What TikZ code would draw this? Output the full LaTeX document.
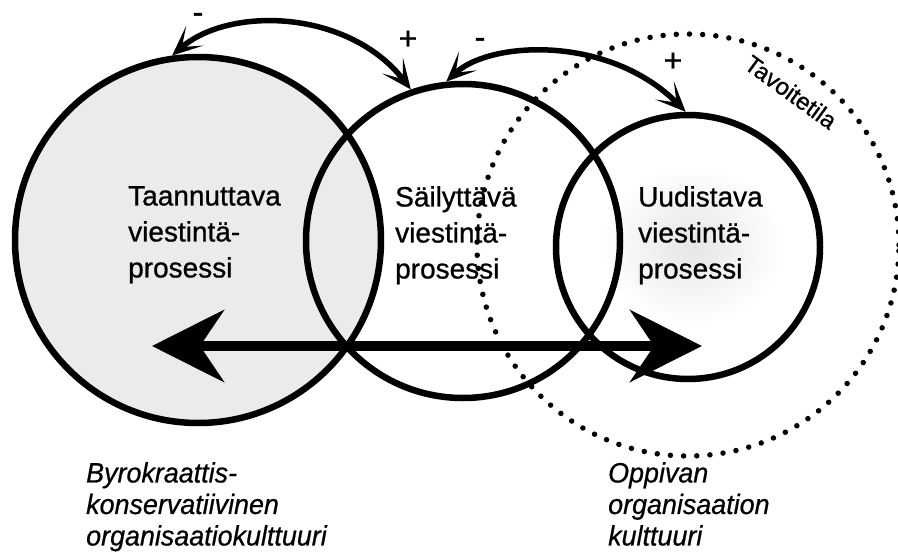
\documentclass[tikz,border=0pt]{standalone}
\usepackage{fontspec}
\setmainfont{Liberation Sans}
\newfontfamily\procfont{Liberation Sans}[FakeBold=0.8]
\newfontfamily\cultfont{Liberation Sans Italic}[FakeStretch=0.96, FakeBold=0.6]
\usetikzlibrary{arrows.meta}
\begin{document}
\begin{tikzpicture}[x=1pt,y=-1pt,
  ring/.style={circle, draw, line width=6.5pt, inner sep=0pt},
  proc/.style={anchor=north west, inner sep=0pt, align=left,
    font=\procfont\fontsize{28}{36}\selectfont},
  cult/.style={anchor=north west, inner sep=0pt, align=left,
    font=\cultfont\fontsize{28}{31.5}\selectfont},
  sign/.style={inner sep=0pt, font=\procfont\fontsize{32}{32}\selectfont},
  swingtip/.tip={Stealth[length=30pt, width=26pt, inset=17pt]},
  swing/.style={line width=5.5pt, swingtip-swingtip},
  bigtip/.tip={Stealth[length=72pt, width=72pt, inset=24pt]},
  spanarrow/.style={line width=10pt, bigtip-bigtip},
  ]
\useasboundingbox (0,0) rectangle (898,557);

% the three process circles and the target state
\node[ring, fill=black!8, minimum size=366pt] (L) at (198,240) {};
\shade[inner color=black!10, outer color=white] (692,245) ellipse (92pt and 80pt);
\node[ring, minimum size=314pt] (M) at (463,241) {};
\node[ring, minimum size=264pt] (R) at (688,247) {};

% process labels
\node[proc] (tl) at (128,186) {Taannuttava\\viestintä-\\prosessi};
\node[proc] (ml) at (395,186) {Säilyttävä\\viestintä-\\prosessi};
\node[proc] (rl) at (638,186) {Uudistava\\viestintä-\\prosessi};

\node[circle, minimum size=422pt, inner sep=0pt, draw, line width=5.5pt,
  line cap=round, dash pattern=on 0pt off 13.2pt] (G) at (688,245) {};
\node[inner sep=0pt, rotate=-36, font=\procfont\fontsize{24}{24}\selectfont] (gl)
  at (791,92) {Tavoitetila};

% feedback arrows between neighbouring processes
\draw[swing] (L.98) .. controls (230,5) and (350,10) .. (M.109);
\draw[swing] (M.96) .. controls (490,40) and (610,35) .. (R.91);
\node[sign] (s1) at (198,18) {-};
\node[sign] (s2) at (408,40) {+};
\node[sign] (s3) at (480,43) {-};
\node[sign] (s4) at (673,62) {+};

% span between the two cultures
\coordinate (westend) at (152,346);
\coordinate (eastend) at (702,346);
\draw[spanarrow] (westend) -- (eastend);

% culture labels
\node[cult] (c1) at (86,462) {Byrokraattis-\\konservatiivinen\\organisaatiokulttuuri};
\node[cult] (c2) at (608,462) {Oppivan\\organisaation\\kulttuuri};
\end{tikzpicture}
\end{document}
